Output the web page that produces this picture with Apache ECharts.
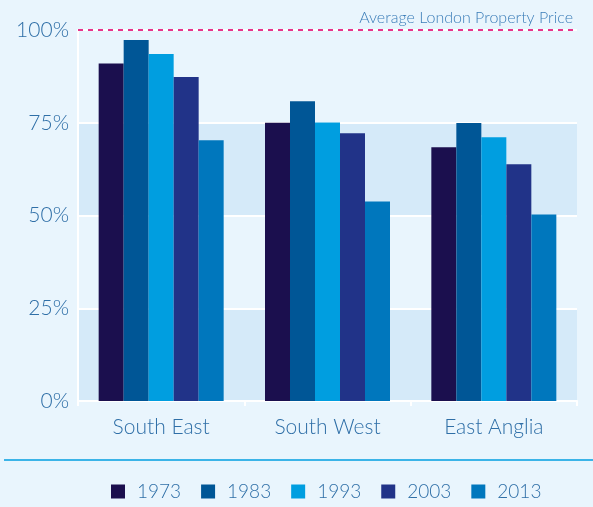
<!DOCTYPE html>
<html>
<head>
<meta charset="utf-8">
<script src="https://cdn.jsdelivr.net/npm/echarts@6/dist/echarts.min.js"></script>
<style>
  html, body { margin: 0; padding: 0; background: #e9f5fd; }
  #chart { width: 593px; height: 507px; }
</style>
</head>
<body>
<div id="chart"></div>
<script>
// 数据
const regions = ['South East', 'South West', 'East Anglia'];
const years = ['1973', '1983', '1993', '2003', '2013'];
const yearColors = ['#1b0f4e', '#005696', '#009ee0', '#213388', '#0077bd'];
const v1973 = [91, 75, 68.4];
const v1983 = [97.3, 80.8, 74.9];
const v1993 = [93.5, 75.1, 71.1];
const v2003 = [87.3, 72.2, 63.8];
const v2013 = [70.3, 53.8, 50.3];
const yTicks = [0, 25, 50, 75, 100];
const londonLevel = 100;

const textColor = '#2f6fa7';
const font = 'Lato';
const values = [v1973, v1983, v1993, v2003, v2013];

const chart = echarts.init(document.getElementById('chart'), null, { renderer: 'canvas' });

const series = years.map((y, i) => ({
  name: y,
  type: 'bar',
  data: values[i],
  barWidth: 25,
  barGap: '0%',
  itemStyle: { color: yearColors[i] },
  ...(i === 0 && {
    markLine: {
      silent: true,
      symbol: 'none',
      label: { show: false },
      lineStyle: { color: '#e8338c', type: [5, 5], width: 2 },
      data: [{ yAxis: londonLevel }]
    }
  })
}));

chart.setOption({
  backgroundColor: '#e9f5fd',
  animation: false,
  title: {
    text: 'Average London Property Price',
    right: 15,
    top: 5,
    textStyle: { color: '#3b7db8', fontSize: 16, fontWeight: 300, fontFamily: font }
  },
  grid: { left: 78, right: 16, top: 30, bottom: 106 },
  legend: {
    data: years,
    left: 106,
    top: 477,
    itemWidth: 14,
    itemHeight: 14,
    itemGap: 20,
    icon: 'rect',
    textStyle: { color: textColor, fontSize: 19, fontWeight: 300, fontFamily: font, padding: [0, 0, 0, 7] }
  },
  xAxis: {
    type: 'category',
    data: regions,
    axisLine: { lineStyle: { color: '#ffffff', width: 2 } },
    axisTick: { show: true, length: 5, lineStyle: { color: '#ffffff', width: 2 } },
    axisLabel: { color: textColor, fontSize: 21, fontWeight: 300, fontFamily: font, margin: 16 }
  },
  yAxis: {
    type: 'value',
    min: yTicks[0],
    max: yTicks[yTicks.length - 1],
    interval: 25,
    axisLine: { show: true, lineStyle: { color: '#ffffff', width: 2 } },
    axisTick: { show: false },
    axisLabel: { color: textColor, fontSize: 21, fontWeight: 300, fontFamily: font, margin: 9, formatter: '{value}%' },
    splitLine: { lineStyle: { color: '#ffffff', width: 2 } },
    splitArea: { show: true, areaStyle: { color: ['#d5eaf9', '#e9f5fd'] } }
  },
  graphic: [{
    type: 'line',
    shape: { x1: 4, y1: 460, x2: 593, y2: 460 },
    style: { stroke: '#009ee0', lineWidth: 1.5 }
  }],
  series
});
</script>
</body>
</html>
